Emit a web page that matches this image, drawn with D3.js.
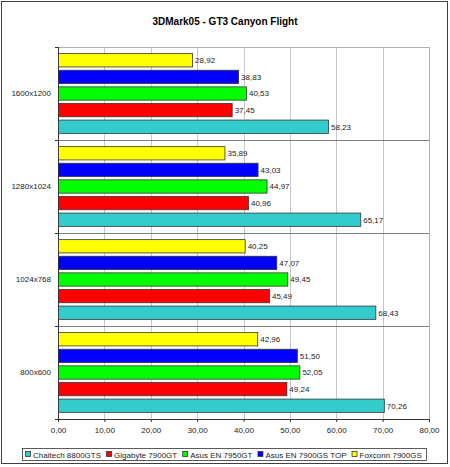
<!DOCTYPE html>
<html>
<head>
<meta charset="utf-8">
<script src="https://cdn.jsdelivr.net/npm/d3@7"></script>
<style>
  body { margin: 0; background: #fff; }
  text { font-family: "Liberation Sans", Arial, sans-serif; }
</style>
</head>
<body>
<div id="chart"></div>
<script>

// ======================= //
// DATA
// ======================= //

var resolutions = ["1600x1200", "1280x1024", "1024x768", "800x600"]

// series in legend order
var series = ["Chaitech 8800GTS", "Gigabyte 7900GT", "Asus EN 7950GT", "Asus EN 7900GS TOP", "Foxconn 7900GS"]
var colors = ["#33CCCC", "#FF0000", "#00FF00", "#0000FF", "#FFFF00"]

// one array per series, values in resolutions order
var chaitech = [58.23, 65.17, 68.43, 70.26]
var gigabyte = [37.45, 40.96, 45.49, 49.24]
var asus7950 = [40.53, 44.97, 49.45, 52.05]
var asusTop  = [38.83, 43.03, 47.07, 51.50]
var foxconn  = [28.92, 35.89, 40.25, 42.96]
var values = [chaitech, gigabyte, asus7950, asusTop, foxconn]

var xTicks = [0, 10, 20, 30, 40, 50, 60, 70, 80]

// build rows for drawing
var rows = []
resolutions.forEach(function(r, i){
  series.forEach(function(s, j){
    rows.push({res: r, series: s, value: values[j][i], color: colors[j]})
  })
})

var fmt = function(v){ return d3.format(".2f")(v).replace(".", ",") }

// ======================= //
// SVG AREA
// ======================= //

var W = 450, H = 467
var margin = {top: 47, right: 21, bottom: 48, left: 58},
    width = W - margin.left - margin.right,
    height = H - margin.top - margin.bottom;

var root = d3.select("#chart")
  .append("svg")
    .attr("width", W)
    .attr("height", H)

// outer frame
root.append("rect")
  .attr("x", 1.5).attr("y", 1.5)
  .attr("width", 446).attr("height", 462)
  .attr("fill", "#fff")
  .attr("stroke", "#404040")

// title
root.append("text")
  .attr("x", 225)
  .attr("y", 25)
  .attr("text-anchor", "middle")
  .style("font-size", "10px")
  .style("font-weight", "bold")
  .text("3DMark05 - GT3 Canyon Flight")

var svg = root.append("g")
  .attr("transform", "translate(" + margin.left + "," + margin.top + ")")

// ======================= //
// AXIS AND SCALES
// ======================= //

var x = d3.scaleLinear()
  .domain([0, 80])
  .range([0, width])

var y = d3.scaleBand()
  .domain(resolutions)
  .range([0, height])

// bars inside a group, top to bottom: reverse of legend order
var yInner = d3.scaleBand()
  .domain(series.slice().reverse())
  .range([0, y.bandwidth()])
  .paddingInner(0.2)
  .paddingOuter(0.4)

// vertical gridlines
svg.append("g")
  .selectAll("line")
  .data(xTicks.slice(1))
  .enter()
  .append("line")
    .attr("x1", function(d){ return Math.round(x(d)) + 0.5 })
    .attr("x2", function(d){ return Math.round(x(d)) + 0.5 })
    .attr("y1", 0)
    .attr("y2", height)
    .attr("stroke", "#C8C8C8")

// plot border top/right
svg.append("path")
  .attr("d", "M0,0.5H" + (width + 0.5) + "V" + height)
  .attr("fill", "none")
  .attr("stroke", "#B0B0B0")

// group separators
svg.append("g")
  .selectAll("line")
  .data(resolutions.slice(1))
  .enter()
  .append("line")
    .attr("x1", 0)
    .attr("x2", width)
    .attr("y1", function(d){ return Math.round(y(d)) + 0.5 })
    .attr("y2", function(d){ return Math.round(y(d)) + 0.5 })
    .attr("stroke", "#808080")

// X axis
var xAxis = svg.append("g")
  .attr("transform", "translate(0," + height + ")")
  .call(d3.axisBottom(x).tickValues(xTicks).tickFormat(fmt).tickSizeOuter(0).tickSize(3).tickPadding(5))
xAxis.select(".domain").attr("stroke", "#333")
xAxis.selectAll(".tick line").attr("stroke", "#333")
xAxis.selectAll("text")
  .style("font-size", "8px")
  .style("font-family", "'Liberation Sans', Arial, sans-serif")
  .attr("fill", "#222")

// Y axis line and ticks at group boundaries
var bounds = resolutions.map(function(r){ return y(r) }).concat([height])
svg.append("line")
  .attr("x1", 0.5).attr("x2", 0.5)
  .attr("y1", 0).attr("y2", height)
  .attr("stroke", "#333")
svg.append("g")
  .selectAll("line")
  .data(bounds)
  .enter()
  .append("line")
    .attr("x1", -3).attr("x2", 0)
    .attr("y1", function(d){ return Math.round(d) + 0.5 })
    .attr("y2", function(d){ return Math.round(d) + 0.5 })
    .attr("stroke", "#333")

// Y labels
svg.selectAll("myYLabels")
  .data(resolutions)
  .enter()
  .append("text")
    .attr("x", -7)
    .attr("y", function(d){ return y(d) + y.bandwidth() / 2 })
    .attr("dy", "0.35em")
    .attr("text-anchor", "end")
    .style("font-size", "8px")
    .attr("fill", "#222")
    .text(function(d){ return d })

// ======================= //
// BARS AND LABELS
// ======================= //

svg.append("g")
  .selectAll("rect")
  .data(rows)
  .enter()
  .append("rect")
    .attr("x", 0.5)
    .attr("y", function(d){ return y(d.res) + yInner(d.series) })
    .attr("width", function(d){ return x(d.value) })
    .attr("height", yInner.bandwidth())
    .attr("fill", function(d){ return d.color })
    .attr("stroke", "#333")
    .attr("stroke-width", 0.8)

svg.append("g")
  .selectAll("text")
  .data(rows)
  .enter()
  .append("text")
    .attr("x", function(d){ return x(d.value) + 3 })
    .attr("y", function(d){ return y(d.res) + yInner(d.series) + yInner.bandwidth() / 2 })
    .attr("dy", "0.35em")
    .style("font-size", "8px")
    .attr("fill", "#222")
    .text(function(d){ return fmt(d.value) })

// ======================= //
// LEGEND
// ======================= //

var legend = root.append("g")
var legendBox = legend.append("rect")
  .attr("x", 22.5).attr("y", 448.5)
  .attr("width", 404).attr("height", 12)
  .attr("fill", "#fff")
  .attr("stroke", "#333")
  .attr("stroke-width", 0.8)

var lx = 25
series.forEach(function(s, i){
  legend.append("rect")
    .attr("x", lx + 0.5).attr("y", 451.5)
    .attr("width", 5).attr("height", 5)
    .attr("fill", colors[i])
    .attr("stroke", "#333")
    .attr("stroke-width", 0.8)
  var t = legend.append("text")
    .attr("x", lx + 8)
    .attr("y", 457.5)
    .style("font-size", "8px")
    .attr("fill", "#222")
    .text(s)
  lx = lx + 8 + t.node().getComputedTextLength() + 5
})

</script>
</body>
</html>
